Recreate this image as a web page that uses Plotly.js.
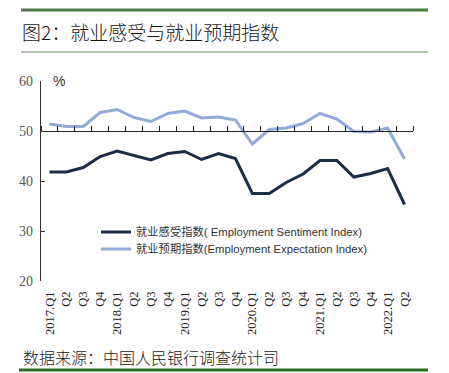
<!DOCTYPE html>
<html>
<head>
<meta charset="utf-8">
<script src="https://cdn.plot.ly/plotly-3.0.1.min.js"></script>
<style>html,body{margin:0;padding:0;background:#fff;}#chart{width:449px;height:373px;}</style>
</head>
<body>
<div id="chart"></div>
<script>
var categories = ['2017Q1','2017Q2','2017Q3','2017Q4','2018Q1','2018Q2','2018Q3','2018Q4','2019Q1','2019Q2','2019Q3','2019Q4','2020Q1','2020Q2','2020Q3','2020Q4','2021Q1','2021Q2','2021Q3','2021Q4','2022Q1','2022Q2'];
var tickLabels = ['2017.Q1','Q2','Q3','Q4','2018.Q1','Q2','Q3','Q4','2019.Q1','Q2','Q3','Q4','2020.Q1','Q2','Q3','Q4','2021.Q1','Q2','Q3','Q4','2022.Q1','Q2'];
var sentiment = [41.8,41.8,42.7,44.9,46.0,45.1,44.2,45.5,45.9,44.3,45.5,44.5,37.5,37.5,39.7,41.4,44.1,44.1,40.8,41.5,42.5,35.3];
var expectation = [51.4,50.9,50.9,53.7,54.3,52.7,51.9,53.5,54.0,52.6,52.8,52.2,47.4,50.3,50.6,51.5,53.5,52.4,49.9,49.8,50.6,44.4];
var seriesNames = ['就业感受指数( Employment Sentiment Index)','就业预期指数(Employment Expectation Index)'];
var yTicks = [20,30,40,50,60];
var boundaryTicks = [];
for (var i = 0; i <= categories.length; i++) boundaryTicks.push(i - 0.5);

var W = 449, H = 373, L = 41, R = 36, T = 81, B = 92;
var pw = W - L - R, ph = H - T - B;
function px(x){ return (x - L) / pw; }
function py(y){ return (H - B - y) / ph; }

var legendFont = {family: '"Liberation Sans", "Noto Sans CJK SC", sans-serif', size: 11.3, color: '#333'};

var traces = [
  {x: categories, y: expectation, type: 'scatter', mode: 'lines', name: seriesNames[1], legend: 'legend2',
   line: {color: '#92abd7', width: 3}, hoverinfo: 'skip'},
  {x: categories, y: sentiment, type: 'scatter', mode: 'lines', name: seriesNames[0], legend: 'legend',
   line: {color: '#1c2b47', width: 3}, hoverinfo: 'skip'},
  {x: [], y: [], type: 'scatter', mode: 'lines', xaxis: 'x2', showlegend: false, hoverinfo: 'skip'}
];

var layout = {
  width: W, height: H,
  margin: {l: L, r: R, t: T, b: B},
  paper_bgcolor: '#fff', plot_bgcolor: 'rgba(0,0,0,0)',
  showlegend: true,
  title: {text: '图2：就业感受与就业预期指数', xref: 'container', yref: 'container',
          x: 22 / W, xanchor: 'left', y: 1 - 33 / H, yanchor: 'middle',
          font: {family: '"Noto Sans CJK SC", sans-serif', size: 19, color: '#151515', weight: 300}},
  xaxis: {type: 'category', categoryorder: 'array', categoryarray: categories,
          range: [-0.5, categories.length - 0.5], tickmode: 'array', tickvals: categories, ticktext: tickLabels,
          tickangle: -90, ticks: '', showline: false, showgrid: false, zeroline: false, ticklabelstandoff: 7,
          tickfont: {family: '"Liberation Serif", serif', size: 12.5, color: '#222'}},
  xaxis2: {overlaying: 'x', anchor: 'free', position: 0.75, side: 'top',
           range: [-0.5, categories.length - 0.5], tickmode: 'array', tickvals: boundaryTicks,
           ticks: 'outside', ticklen: 5, tickcolor: '#222', tickwidth: 1,
           showticklabels: false, showline: true, linecolor: '#222', linewidth: 1.2,
           showgrid: false, zeroline: false},
  yaxis: {range: [20, 60], tickmode: 'array', tickvals: yTicks, ticks: 'inside', ticklen: 4,
          tickcolor: '#333', showline: true, linecolor: '#333', linewidth: 1.2, showgrid: false, zeroline: false,
          ticklabelstandoff: 4,
          tickfont: {family: '"Liberation Serif", serif', size: 14, color: '#555'}},
  legend: {x: px(96), xanchor: 'left', y: py(232), yanchor: 'middle', bgcolor: 'rgba(0,0,0,0)',
           font: legendFont},
  legend2: {x: px(96), xanchor: 'left', y: py(249), yanchor: 'middle', bgcolor: 'rgba(0,0,0,0)',
           font: legendFont},
  annotations: [
    {text: '%', xref: 'paper', yref: 'y', x: px(51), y: 60, xanchor: 'left', yanchor: 'middle',
     showarrow: false, font: {family: '"Liberation Sans", sans-serif', size: 14, color: '#333'}},
    {text: '数据来源：中国人民银行调查统计司', xref: 'paper', yref: 'paper', x: px(21), y: py(357),
     xanchor: 'left', yanchor: 'middle', showarrow: false,
     font: {family: '"Noto Sans CJK SC", sans-serif', size: 16, color: '#222', weight: 300}}
  ],
  shapes: [
    {type: 'line', xref: 'paper', yref: 'paper', x0: px(21), x1: px(428), y0: py(10), y1: py(10),
     line: {color: '#4b7d42', width: 3}},
    {type: 'line', xref: 'paper', yref: 'paper', x0: px(21), x1: px(428), y0: py(52), y1: py(52),
     line: {color: '#6d8a68', width: 1.2}},
    {type: 'line', xref: 'paper', yref: 'paper', x0: px(19), x1: px(428), y0: py(370), y1: py(370),
     line: {color: '#2f6a2a', width: 3}}
  ]
};

Plotly.newPlot('chart', traces, layout, {displayModeBar: false, staticPlot: true});
</script>
</body>
</html>
